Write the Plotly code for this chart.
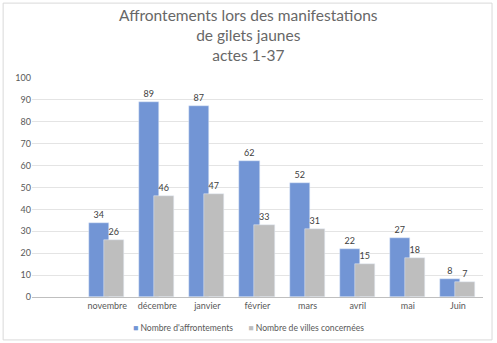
import plotly.graph_objects as go

categories = [" ", "novembre", "décembre", "janvier", "février", "mars", "avril", "mai", "Juin"]
affrontements = [None, 34, 89, 87, 62, 52, 22, 27, 8]
villes = [None, 26, 46, 47, 33, 31, 15, 18, 7]
y_ticks = list(range(0, 101, 10))
title_lines = ["Affrontements lors des manifestations", "de gilets jaunes", "actes 1-37"]
series_names = ["Nombre d'affrontements", "Nombre de villes concernées"]

blue = "#7295D5"
gray = "#BEBEBE"
txt = "#595959"
font_family = "Lato, Open Sans, sans-serif"

fig = go.Figure()
for vals, name, color, off in [(affrontements, series_names[0], blue, -0.36),
                               (villes, series_names[1], gray, -0.06)]:
    fig.add_trace(go.Bar(
        x=categories, y=vals, name=name, showlegend=False,
        marker_color=color, width=0.4, offset=off,
        text=[("" if v is None else str(v)) for v in vals],
        textposition="outside", textfont=dict(size=9, color="#404040"),
        cliponaxis=False,
    ))

legend_text = (
    f'<span style="color:{blue}">■</span> {series_names[0]}'
    f'&nbsp;&nbsp;&nbsp;&nbsp;&nbsp;&nbsp;&nbsp;<span style="color:{gray}">■</span> {series_names[1]}'
)

annotations = [
    dict(
        text="<br>".join(title_lines), xref="paper", yref="paper", x=0.479, y=1.196,
        xanchor="center", yanchor="middle", showarrow=False,
        font=dict(family=font_family, size=15.5, color="#676767"),
    ),
    dict(
        text=legend_text, xref="paper", yref="paper", x=0.479, y=-0.1416,
        xanchor="center", yanchor="middle", showarrow=False,
        font=dict(family=font_family, size=8.6, color=txt),
    ),
]

fig.update_layout(
    width=497, height=343,
    paper_bgcolor="white", plot_bgcolor="white",
    margin=dict(l=32, r=14, t=78, b=46, autoexpand=False),
    font=dict(family=font_family, size=9, color=txt),
    barmode="overlay",
    showlegend=False,
    annotations=annotations,
    xaxis=dict(
        type="category", categoryorder="array", categoryarray=categories,
        showgrid=False, showline=True, linecolor="#BFBFBF", linewidth=1,
        ticks="", tickfont=dict(size=9, color=txt), automargin=False,
    ),
    yaxis=dict(
        range=[0, 100], tickvals=y_ticks, showgrid=True, gridcolor="#E4E4E4",
        zeroline=False, showline=False, ticks="", tickfont=dict(size=9, color=txt),
        automargin=False,
    ),
    shapes=[dict(
        type="rect", xref="paper", yref="paper",
        x0=-0.064, x1=1.02, y0=-0.196, y1=1.342,
        line=dict(color="#D9D9D9", width=1), fillcolor="rgba(0,0,0,0)",
        layer="below",
    )],
    bargap=0,
)

fig.write_html("out.html")
